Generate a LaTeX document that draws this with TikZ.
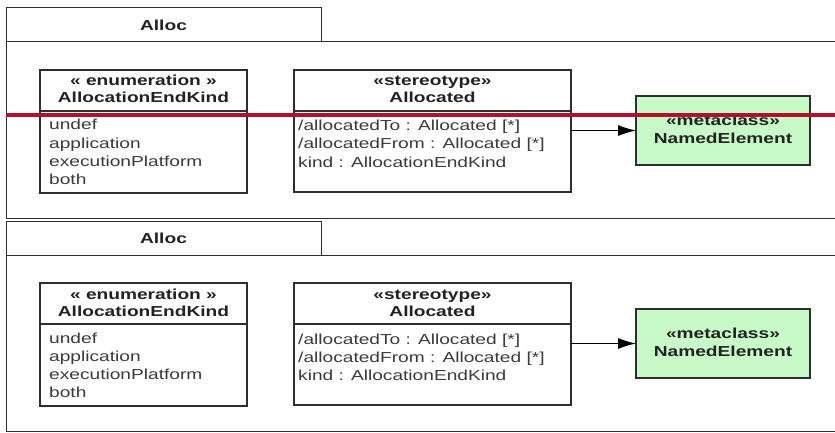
\documentclass[tikz,border=0pt]{standalone}
\usepackage{fontspec}
\setmainfont{Liberation Sans}[FakeStretch=1.32]
\usetikzlibrary{arrows.meta}
\definecolor{linegray}{HTML}{2E2E2E}
\definecolor{txtgray}{HTML}{3A3A3A}
\definecolor{txtdark}{HTML}{222222}
\definecolor{metagreen}{HTML}{C8FAC8}
\definecolor{redbar}{HTML}{B3112B}
\tikzset{
  frame/.style={draw=linegray, line width=1pt, inner sep=0pt, outer sep=0pt, anchor=north west},
  umlbox/.style={draw=linegray, line width=1.3pt, fill=white, inner sep=0pt, outer sep=0pt, anchor=north west},
  divider/.style={draw=linegray, line width=1.3pt},
  hdr/.style={font=\fontsize{14.5}{17}\selectfont\bfseries, text=txtdark, inner sep=0pt},
  hdrline/.style={hdr, anchor=base},
  item/.style={font=\fontsize{14.5}{17}\selectfont, text=txtgray, anchor=base west, inner sep=0pt},
  conn/.style={draw=black, line width=1pt, -{Latex[length=18pt,width=11pt]}},
  redline/.style={draw=redbar, line width=4.5pt}
}
\newcommand\drawpanel[2]{%
  % tab and frame
  \node[frame, minimum width=315pt, minimum height=34pt] (tab#1) at (6,{8+#2}) {};
  \node[hdr] (tabtxt#1) at (tab#1.center) {Alloc};
  \node[frame, minimum width=835pt, minimum height=176pt] (frame#1) at (6,{42+#2}) {};
  % enumeration
  \node[umlbox, minimum width=207pt, minimum height=123pt] (enum#1) at (40,{70+#2}) {};
  \draw[divider] (enum#1.west |- 0,{111+#2}) -- (enum#1.east |- 0,{111+#2});
  \node[hdrline] (enumst#1) at (143.5,{86+#2}) {« enumeration »};
  \node[hdrline] (enumnm#1) at (143.5,{103+#2}) {AllocationEndKind};
  \node[item] (enumi1#1) at (49,{130+#2}) {undef};
  \node[item] (enumi2#1) at (49,{148+#2}) {application};
  \node[item] (enumi3#1) at (49,{166+#2}) {executionPlatform};
  \node[item] (enumi4#1) at (49,{184+#2}) {both};
  % stereotype
  \node[umlbox, minimum width=277pt, minimum height=122pt] (st#1) at (294,{70+#2}) {};
  \draw[divider] (st#1.west |- 0,{111+#2}) -- (st#1.east |- 0,{111+#2});
  \node[hdrline] (stst#1) at (432.5,{86+#2}) {«stereotype»};
  \node[hdrline] (stnm#1) at (432.5,{103+#2}) {Allocated};
  \node[item] (sti1#1) at (298,{131+#2}) {/allocatedTo : Allocated [*]};
  \node[item] (sti2#1) at (298,{149+#2}) {/allocatedFrom : Allocated [*]};
  \node[item] (sti3#1) at (298,{167+#2}) {kind : AllocationEndKind};
  % metaclass
  \node[umlbox, fill=metagreen, minimum width=174pt, minimum height=69pt] (ne#1) at (636,{96+#2}) {};
  \node[hdrline] (nest#1) at (ne#1.center |- 0,{125+#2}) {«metaclass»};
  \node[hdrline] (nenm#1) at (ne#1.center |- 0,{143+#2}) {NamedElement};
  % association
  \draw[conn] (st#1.east |- ne#1.west) -- (ne#1.west);
}
\begin{document}
\begin{tikzpicture}[x=1pt,y=-1pt]
\useasboundingbox[fill=white] (0,0) rectangle (835,433);
\clip (0,0) rectangle (835,433);
\drawpanel{A}{0}
\drawpanel{B}{213}
\coordinate (redL) at (6,115);
\coordinate (redR) at (835,115);
\draw[redline] (redL) -- (redR);
\end{tikzpicture}
\end{document}
